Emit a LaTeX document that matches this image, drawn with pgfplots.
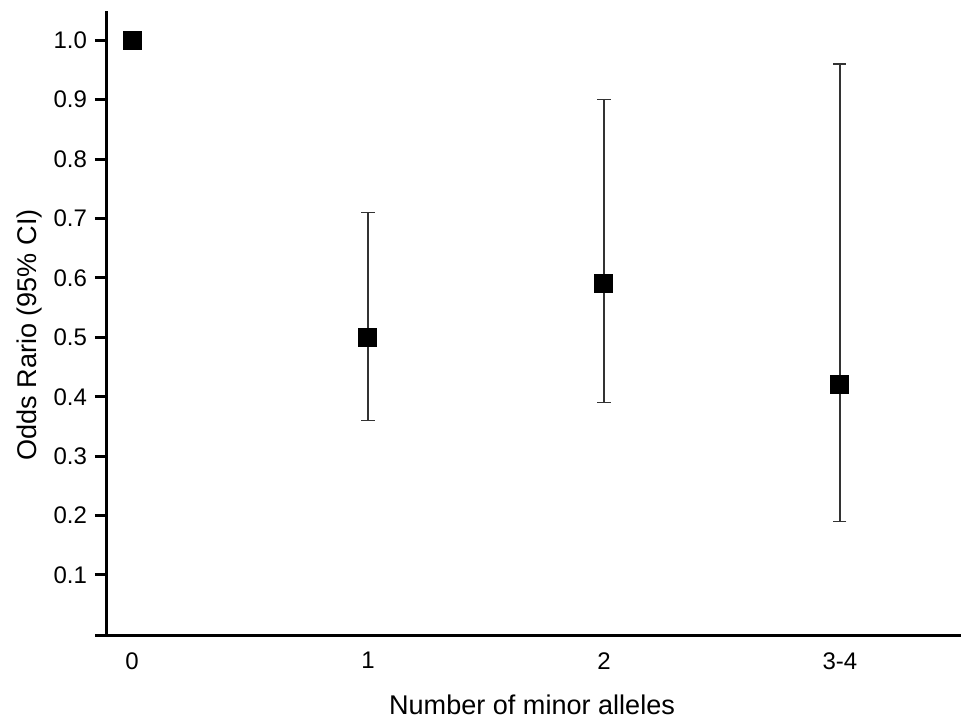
\documentclass[border=0pt]{standalone}
\usepackage{pgfplots}
\pgfplotsset{compat=1.18}
\usepackage{fontspec}
\setmainfont{Liberation Sans}
\begin{document}
\begin{tikzpicture}
\path[use as bounding box] (-80.25pt,-65.55pt) rectangle (640.5pt,476.7pt);
\begin{axis}[
  at={(0,0)}, anchor=south west,
  scale only axis,
  width=640.5pt, height=468.75pt,
  xmin=-0.106, xmax=3.513,
  ymin=-0.002, ymax=1.05,
  axis x line=bottom, axis y line=left,
  axis line style={-, line width=2.25pt, black},
  tick align=outside,
  major tick length=9pt,
  ytick={0.1,0.2,0.3,0.4,0.5,0.6,0.7,0.8,0.9,1.0},
  ytick style={line width=2.25pt, black},
  xtick={0,1,2,3},
  xticklabels={0,1,2,3-4},
  xtick style={draw=none},
  yticklabel style={/pgf/number format/fixed, /pgf/number format/precision=1, /pgf/number format/fixed zerofill, xshift=-2.5pt},
  /pgf/number format/assume math mode=true,
  tick label style={font=\fontsize{18pt}{20pt}\selectfont},
  label style={font=\fontsize{20.3pt}{24pt}\selectfont},
  xlabel={Number of minor alleles},
  ylabel={Odds Rario (95\% CI)},
  xlabel style={at={(axis description cs:0.4977,-0.1262)}, anchor=base},
  ylabel style={at={(axis description cs:-0.082,0.481)}, anchor=base},
  clip=false,
]
\addplot[only marks, mark=square*, mark size=6.75pt, mark options={draw=black, fill=black, line width=0pt}]
  coordinates {(0,1.0)};
\addplot[only marks, mark=square*, mark size=6.75pt, mark options={draw=black, fill=black, line width=0pt},
  error bars/.cd, y dir=both, y explicit,
  error bar style={line width=1.1pt, color=black!80},
  error mark options={rotate=90, line width=1.1pt, mark size=4.9pt, color=black!80}]
  coordinates {
    (1,0.50) += (0,0.21) -= (0,0.14)
    (2,0.59) += (0,0.31) -= (0,0.20)
    (3,0.42) += (0,0.54) -= (0,0.23)
  };
\draw[line width=2.25pt, black] (axis description cs:0,0) -- (axis description cs:-0.0141,0);
\end{axis}
\end{tikzpicture}
\end{document}
